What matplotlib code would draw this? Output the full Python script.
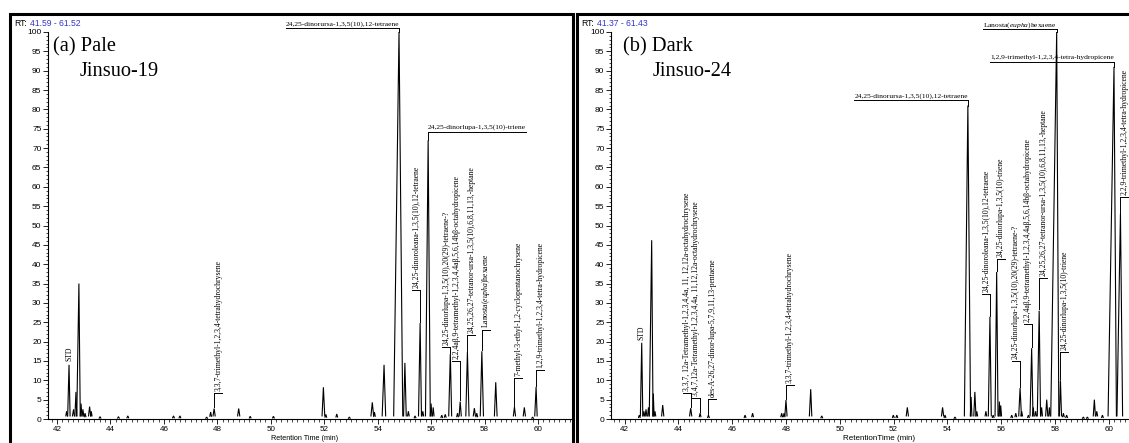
import matplotlib
matplotlib.use("Agg")
import matplotlib.pyplot as plt
from matplotlib.lines import Line2D
from matplotlib.ticker import MultipleLocator

plt.rcParams['mathtext.fontset'] = 'custom'
plt.rcParams['mathtext.rm'] = 'Liberation Serif'
plt.rcParams['mathtext.it'] = 'Liberation Serif:italic'

# ---------------- data: panel (a) Pale, Jinsuo-19 ----------------
a_rt = [42.36, 42.45, 42.62, 42.71, 42.82, 42.90, 42.97, 43.05, 43.22, 43.28,
        43.61, 44.30, 44.65, 46.36, 46.60, 47.60, 47.75, 47.88, 48.80, 49.23,
        50.10, 51.97, 52.06, 52.47, 52.94, 53.80, 53.88, 54.24, 54.80, 55.02,
        55.15, 55.40, 55.59, 55.69, 55.89, 56.00, 56.08, 56.40, 56.53, 56.72,
        56.99, 57.09, 57.36, 57.62, 57.71, 57.90, 58.42, 59.12, 59.49, 59.80,
        59.93]
a_int = [2.0, 14.0, 2.5, 7.0, 35.0, 4.0, 2.5, 1.5, 3.2, 2.0,
         0.6, 0.6, 0.8, 0.8, 0.8, 0.5, 1.8, 2.7, 2.7, 0.7,
         0.7, 8.2, 1.2, 1.3, 0.5, 4.3, 1.8, 14.0, 100.0, 14.5,
         2.0, 0.8, 24.8, 2.0, 72.0, 4.0, 3.0, 1.0, 1.2, 16.8,
         1.5, 4.5, 17.3, 2.8, 1.5, 17.5, 9.5, 3.1, 3.0, 0.5,
         8.3]
a_wl = [0.03, 0.05, 0.04, 0.04, 0.08, 0.03, 0.03, 0.03, 0.04, 0.02,
        0.03, 0.03, 0.03, 0.03, 0.03, 0.03, 0.03, 0.04, 0.04, 0.03,
        0.03, 0.05, 0.03, 0.03, 0.03, 0.05, 0.03, 0.07, 0.20, 0.05,
        0.03, 0.03, 0.06, 0.03, 0.10, 0.03, 0.03, 0.03, 0.03, 0.06,
        0.03, 0.04, 0.06, 0.04, 0.03, 0.06, 0.05, 0.04, 0.04, 0.03,
        0.05]
a_wr = [0.03, 0.04, 0.03, 0.03, 0.05, 0.03, 0.03, 0.03, 0.04, 0.03,
        0.03, 0.03, 0.03, 0.03, 0.03, 0.03, 0.03, 0.04, 0.04, 0.03,
        0.03, 0.05, 0.03, 0.03, 0.03, 0.05, 0.03, 0.06, 0.14, 0.05,
        0.03, 0.03, 0.05, 0.03, 0.08, 0.03, 0.03, 0.03, 0.03, 0.05,
        0.03, 0.04, 0.06, 0.04, 0.03, 0.06, 0.05, 0.04, 0.04, 0.03,
        0.04]

# horizontal labels: (text, rt, peak height, line level, side)
a_hlabels = [
    ("24,25-dinorursa-1,3,5(10),12-tetraene", 54.80, 100.0, 101.0, -1),
    ("24,25-dinorlupa-1,3,5(10)-triene", 55.89, 72.0, 74.2, 1),
]
# vertical labels: (text, rt, peak height, bracket level, side)
a_vlabels = [
    ("3,3,7-trimethyl-1,2,3,4-tetrahydrochrysene", 47.88, 2.7, 6.7, 1),
    ("24,25-dinoroleana-1,3,5(10),12-tetraene", 55.59, 24.8, 33.3, -1),
    ("24,25-dinorlupa-1,3,5(10),20(29)-tetraene-?", 56.72, 16.8, 18.6, -1),
    ("2,2,4aβ,9-tetramethyl-1,2,3,4,4aβ,5,6,14bβ-octahydropicene", 57.09, 4.5, 15.0, -1),
    ("24,25,26,27-tetranor-ursa-1,3,5(10),6,8,11,13,-heptane", 57.36, 17.3, 21.7, 1),
    (r"Lanosta($\mathit{eupha}$)hexaene", 57.90, 17.5, 23.0, 1),
    ("7-methyl-3-ethyl-1,2-cyclopentanochrysene", 59.12, 3.1, 10.6, 1),
    ("1,2,9-trimethyl-1,2,3,4-tetra-hydropicene", 59.93, 8.3, 12.7, 1),
]
a_std = (42.45, 15.0)

# ---------------- data: panel (b) Dark, Jinsuo-24 ----------------
b_rt = [42.55, 42.64, 42.72, 42.80, 42.89, 43.01, 43.07, 43.13, 43.42, 44.46,
        44.81, 45.12, 46.48, 46.76, 47.84, 47.93, 48.00, 48.92, 49.33, 51.99,
        52.12, 52.51, 53.82, 53.91, 54.28, 54.76, 54.88, 55.02, 55.09, 55.43,
        55.58, 55.70, 55.83, 55.93, 55.98, 56.39, 56.54, 56.70, 56.76, 57.01,
        57.13, 57.19, 57.28, 57.41, 57.50, 57.69, 57.79, 58.06, 58.20, 58.31,
        58.43, 59.05, 59.20, 59.46, 59.55, 59.76, 60.19, 60.43]
b_int = [1.0, 19.7, 2.0, 2.5, 3.0, 46.2, 6.6, 2.0, 3.6, 2.8,
         1.5, 1.0, 1.0, 1.5, 1.5, 1.5, 4.9, 7.7, 0.8, 1.0,
         1.0, 3.0, 3.0, 1.0, 0.5, 81.0, 5.7, 7.0, 2.0, 2.0,
         26.4, 1.0, 38.0, 4.5, 3.5, 1.0, 1.5, 8.0, 2.0, 1.0,
         18.3, 3.0, 2.0, 28.0, 3.0, 5.0, 3.0, 100.0, 10.0, 1.5,
         1.0, 0.5, 0.5, 5.0, 2.0, 1.0, 91.0, 53.0]
b_wl = [0.03, 0.05, 0.03, 0.03, 0.03, 0.09, 0.02, 0.03, 0.04, 0.04,
        0.03, 0.03, 0.03, 0.03, 0.03, 0.03, 0.04, 0.05, 0.03, 0.03,
        0.03, 0.04, 0.04, 0.03, 0.03, 0.13, 0.03, 0.04, 0.03, 0.03,
        0.06, 0.03, 0.06, 0.03, 0.03, 0.03, 0.03, 0.05, 0.03, 0.03,
        0.06, 0.03, 0.03, 0.07, 0.03, 0.04, 0.03, 0.22, 0.04, 0.03,
        0.03, 0.03, 0.03, 0.04, 0.03, 0.03, 0.22, 0.13]
b_wr = [0.03, 0.04, 0.03, 0.03, 0.03, 0.05, 0.03, 0.03, 0.04, 0.04,
        0.03, 0.03, 0.03, 0.03, 0.03, 0.03, 0.04, 0.04, 0.03, 0.03,
        0.03, 0.04, 0.04, 0.03, 0.03, 0.10, 0.03, 0.04, 0.03, 0.03,
        0.05, 0.03, 0.05, 0.03, 0.03, 0.03, 0.03, 0.05, 0.03, 0.03,
        0.05, 0.03, 0.03, 0.05, 0.03, 0.04, 0.03, 0.08, 0.04, 0.03,
        0.03, 0.03, 0.03, 0.04, 0.03, 0.03, 0.09, 0.08]

b_hlabels = [
    (r"Lanosta($\mathit{eupha}$)hexaene", 58.06, 100.0, 100.8, -1),
    ("1,2,9-trimethyl-1,2,3,4-tetra-hydropicene", 60.19, 91.0, 92.2, -1),
    ("24,25-dinorursa-1,3,5(10),12-tetraene", 54.76, 81.0, 82.4, -1),
]
b_vlabels = [
    ("3,3,7, 12a-Tetramethyl-1,2,3,4,4a, 11, 12,12a-octahydrochrysene", 44.46, 2.8, 6.7, -1),
    ("3,4,7,12a-Tetramethyl-1,2,3,4,4a, 11,12,12a-octahydrochrysene", 44.81, 1.5, 5.4, -1),
    ("des-A-26,27-dinor-lupa-5,7,9,11,13-pentaene", 45.12, 1.0, 5.2, 1),
    ("3,3,7-trimethyl-1,2,3,4-tetrahydrochrysene", 48.00, 4.9, 8.8, 1),
    ("24,25-dinoroleana-1,3,5(10),12-tetraene", 55.58, 26.4, 32.3, -1),
    ("24,25-dinorlupa-1,3,5(10)-triene", 55.83, 38.0, 41.3, 1),
    ("24,25-dinorlupa-1,3,5(10),20(29)-tetraene-?", 56.70, 8.0, 15.0, -1),
    ("2,2,4aβ,9-tetramethyl-1,2,3,4,4aβ,5,6,14bβ-octahydropicene", 57.13, 18.3, 24.5, -1),
    ("24,25,26,27-tetranor-ursa-1,3,5(10),6,8,11,13,-heptane", 57.41, 28.0, 36.4, 1),
    ("24,25-dinorlupa-1,3,5(10)-triene", 58.20, 10.0, 17.3, 1),
    ("2,2,9-trimethyl-1,2,3,4-tetra-hydropicene", 60.43, 53.0, 57.4, 1),
]
b_std = (42.64, 20.5)

# ---------------- layout ----------------
W, H = 1129, 443
fig = plt.figure(figsize=(W / 100, H / 100), dpi=100)

SERIF = 'Liberation Serif'
SANS = 'Liberation Sans'


def make_axes(left_px, right_px, ref_px, scale):
    ax = fig.add_axes([left_px / W, 1 - 419 / H, (right_px - left_px) / W, (419 - 32) / H])
    ax.set_xlim(42 - (ref_px - left_px) / scale, 42 + (right_px - ref_px) / scale)
    ax.set_ylim(0, 100)
    for s in ('top', 'right'):
        ax.spines[s].set_visible(False)
    for s in ('left', 'bottom'):
        ax.spines[s].set_linewidth(0.8)
    ax.yaxis.set_major_locator(MultipleLocator(5))
    ax.yaxis.set_minor_locator(MultipleLocator(1))
    ax.xaxis.set_major_locator(MultipleLocator(2))
    ax.xaxis.set_minor_locator(MultipleLocator(0.2))
    ax.tick_params(which='major', direction='out', length=3.5, width=0.6, pad=1.2)
    ax.tick_params(which='minor', direction='out', length=1.8, width=0.5)
    ax.tick_params(axis='y', labelsize=6.0)
    ax.tick_params(axis='x', labelsize=5.8)
    for lab in ax.get_xticklabels() + ax.get_yticklabels():
        lab.set_fontfamily(SANS)
    ax.patch.set_alpha(0)
    return ax


def draw_trace(ax, rts, ints, wls, wrs):
    for rt, h, wl, wr in zip(rts, ints, wls, wrs):
        base = min(0.8, 0.4 * h)
        ax.plot([rt - wl, rt, rt + wr], [base, h, base], color='black', lw=0.8,
                solid_joinstyle='miter')


def draw_vlabels(ax, labels, scale, fs=5.5):
    for text, rt, ph, lvl, side in labels:
        ax.plot([rt, rt], [ph + 0.3, lvl], color='black', lw=0.7, clip_on=False)
        ax.plot([rt, rt + side * 8 / scale], [lvl, lvl], color='black', lw=0.7, clip_on=False)
        ax.text(rt + side * 4 / scale, lvl + 0.6, text, rotation=90, ha='center', va='bottom',
                fontsize=fs, family=SERIF, clip_on=False)


def draw_hlabels(ax, labels, scale, fs=5.4):
    r = fig.canvas.get_renderer()
    for text, rt, ph, lvl, side in labels:
        t = ax.text(rt, lvl + 0.7, text, ha='right' if side < 0 else 'left', va='baseline',
                    fontsize=fs, family=SERIF, clip_on=False)
        bb = t.get_window_extent(renderer=r)
        wdata = bb.width / scale
        ax.plot([rt, rt + side * wdata], [lvl, lvl], color='black', lw=0.7, clip_on=False)
        ax.plot([rt, rt], [lvl, ph], color='black', lw=0.7, clip_on=False)


def draw_std(ax, std):
    ax.text(std[0], std[1], "STD", rotation=90, ha='center', va='bottom',
            fontsize=5.5, family=SERIF, clip_on=False)


# panel a
SCALE_A = 26.72
ax_a = make_axes(48, 572, 57, SCALE_A)
draw_trace(ax_a, a_rt, a_int, a_wl, a_wr)
draw_vlabels(ax_a, a_vlabels, SCALE_A)
draw_hlabels(ax_a, a_hlabels, SCALE_A)
draw_std(ax_a, a_std)

# panel b
SCALE_B = 26.91
ax_b = make_axes(611, 1129, 624.5, SCALE_B)
draw_trace(ax_b, b_rt, b_int, b_wl, b_wr)
draw_vlabels(ax_b, b_vlabels, SCALE_B)
draw_hlabels(ax_b, b_hlabels, SCALE_B)
draw_std(ax_b, b_std)


def ftext(x, y, s, **kw):
    fig.text(x / W, 1 - y / H, s, **kw)


# x-axis titles
ftext(305, 438.5, "Retention Time (min)", ha='center', va='center', fontsize=5.2, family=SANS)
ftext(879, 438.5, "RetentionTime (min)", ha='center', va='center', fontsize=5.8, family=SANS)

# RT range headers
ftext(14, 24, "RT:", ha='left', va='center', fontsize=6.2, family=SANS)
ftext(30, 24, "41.59 - 61.52", ha='left', va='center', fontsize=6.2, family=SANS, color='#3535c8')
ftext(581, 24, "RT:", ha='left', va='center', fontsize=6.2, family=SANS)
ftext(597, 24, "41.37 - 61.43", ha='left', va='center', fontsize=6.2, family=SANS, color='#3535c8')

# panel titles
ftext(53, 51, "(a) Pale", ha='left', va='baseline', fontsize=14.7, family=SERIF)
ftext(80, 76, "Jinsuo-19", ha='left', va='baseline', fontsize=14.7, family=SERIF)
ftext(623, 51.5, "(b) Dark", ha='left', va='baseline', fontsize=14.7, family=SERIF)
ftext(653, 76.5, "Jinsuo-24", ha='left', va='baseline', fontsize=14.7, family=SERIF)

# panel frames
for xl, xr in ((9.5, 572.5), (576.5, 1135)):
    fig.add_artist(Line2D([xl / W, xl / W, xr / W, xr / W], [-0.02, 1 - 14 / H, 1 - 14 / H, -0.02],
                          color='black', lw=2.2, solid_joinstyle='miter'))

fig.savefig("out.png", dpi=100)
